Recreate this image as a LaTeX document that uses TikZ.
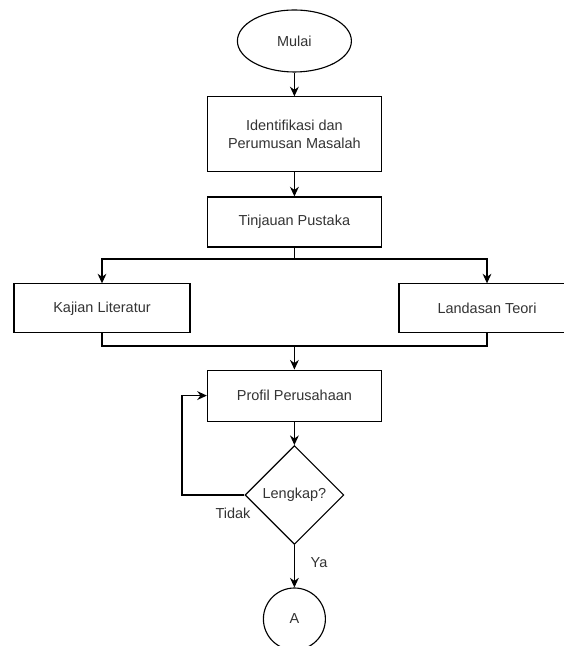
\documentclass[tikz,border=0pt]{standalone}
\usepackage{fontspec}
\setmainfont{Liberation Sans}
\usetikzlibrary{arrows.meta,shapes.geometric}
\tikzset{
	kotak/.style={draw, line width=0.8pt, rectangle, minimum width=4.35cm, minimum height=1.25cm, inner sep=0pt, align=center, text=black!80},
	mulaibox/.style={draw, line width=0.8pt, ellipse, minimum width=2.85cm, minimum height=1.55cm, inner sep=0pt, text=black!80},
	keputusanbox/.style={draw, line width=0.8pt, diamond, aspect=1, minimum size=2.47cm, inner sep=0pt, text=black!80},
	konektor/.style={draw, line width=0.8pt, circle, minimum size=1.55cm, inner sep=0pt, text=black!80},
	panah/.style={line width=0.8pt, -{Stealth[length=0.24cm, width=0.22cm]}},
	garis/.style={line width=0.8pt},
	label/.style={text=black!80, inner sep=0pt}
}

\begin{document}
\begin{tikzpicture}[every node/.style={font=\fontsize{10.3}{12.4}\selectfont}]
			%%%%% START %%%%%
			\useasboundingbox (0, 0) rectangle (14.075, 16.15);
			
			\node[mulaibox] (mulai) at (7.36, 15.125) {Mulai};
			\node[kotak, minimum height=1.875cm] (identifikasi) at (7.36, 12.79) {Identifikasi dan\\Perumusan Masalah};
			\node[kotak] (tinjauan) at (7.36, 10.6) {Tinjauan Pustaka};
			
			\node[kotak, minimum width=4.4cm, minimum height=1.225cm] (kajian) at (2.55, 8.44) {Kajian Literatur};
			\node[kotak, minimum width=4.4cm, minimum height=1.225cm] (landasan) at (12.175, 8.44) {Landasan Teori};
			
			\node[kotak, minimum height=1.275cm] (profil) at (7.36, 6.26) {Profil Perusahaan};
			\node[keputusanbox] (lengkap) at (7.36, 3.775) {Lengkap?};
			\node[konektor] (a) at (7.36, 0.675) {A};
			
			\coordinate (cabang) at (7.36, 9.675);
			\coordinate (gabung) at (7.36, 7.5);
			\coordinate (balik) at (4.55, 6.26);
			
			\draw[panah] (mulai) -- (identifikasi);
			\draw[panah] (identifikasi) -- (tinjauan);
			
			\draw[garis] (tinjauan) -- (cabang);
			\draw[panah] (cabang) -| (kajian.north);
			\draw[panah] (cabang) -| (landasan.north);
			
			\draw[garis] (kajian.south) |- (gabung) -| (landasan.south);
			\draw[panah] (gabung) -- (profil);
			
			\draw[panah] (profil) -- (lengkap);
			\draw[panah] (lengkap.west) -| (balik) -- (profil.west);
			\draw[panah] (lengkap) -- (a);
			
			\node[label] (tidak) at (5.825, 3.325) {Tidak};
			\node[label] (ya) at (7.975, 2.075) {Ya};
			
			%%%%% END %%%%%
		\end{tikzpicture}
\end{document}
